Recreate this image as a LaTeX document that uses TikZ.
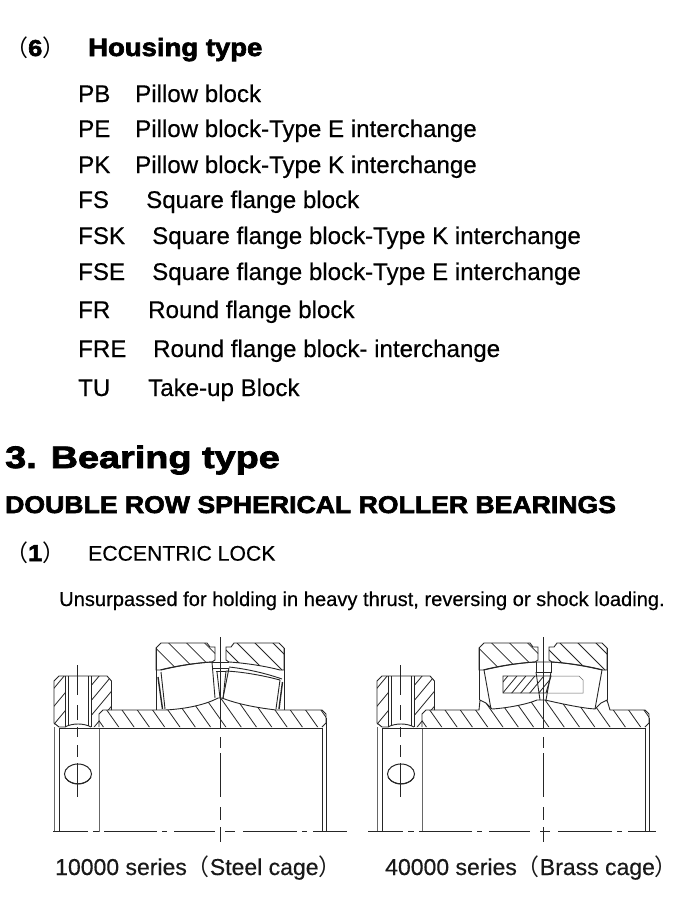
\documentclass[tikz,border=0pt]{standalone}
\usepackage{fontspec}
\usepackage{xcolor}
\usetikzlibrary{shapes.geometric, positioning}
\setmainfont[FakeBold=0.4]{Liberation Sans}
\newfontfamily\heavyfont[FakeBold=2.6, FakeStretch=1.1]{Liberation Sans Bold}
\newfontfamily\bigheavyfont[FakeBold=2.6, FakeStretch=1.22]{Liberation Sans Bold}
\newfontfamily\cjkfont{Noto Sans CJK SC}
\definecolor{inkline}{gray}{0.15}

% hatch lines inside a clipped outline
\newcommand{\hatchin}[3]{%
    \begin{scope}
    \clip #1;
    \foreach \hv in {#3} {\draw[hatch] #2;}
    \end{scope}
}

% parts that both bearings share
\newcommand{\sharedparts}{%
    % locking collar
    \hatchin{(54,727) -- (54,681) -- (59,676) -- (65,676) -- (65,727) -- cycle}{(40,\hv) -- ++(80,-96)}{687,705,723,741}
    \hatchin{(91,676) -- (107,676) -- (111.5,681) -- (111.5,710) -- (103,710) -- (99,714) -- (99,727) -- (91,727) -- cycle}{(40,\hv) -- ++(80,-96)}{732,747,762,777,792,807,822}
    \draw[part] (65,727) -- (59,727) -- (54,723) -- (54,681) -- (59,676) -- (107,676) -- (111.5,681) -- (111.5,710);
    \draw[part] (65,676) -- (65,727);
    \draw[part] (68,676) -- (68,726);
    \draw[part] (88,676) -- (88,726);
    \draw[part] (91,676) -- (91,727);
    \draw[part] (65,727) .. controls (72,723) and (84,723) .. (91,727);
    \draw[thin line] (54,727) -- (54,832);
    \draw[part] (59,728) -- (59,832);
    \draw[thin line] (99,728) -- (99,832);
    \draw[part] (59,728) -- (322,728);
    % set screw
    \node[screw] (dimple) at (78,774) {};
    \draw[part] (65,777) .. controls (70,786) and (86,786) .. (91,777);
    \draw[axis] (77.3,665) -- (77.3,797);
    % sleeve ends
    \draw[part] (322,728) -- (322,832);
    \draw[part] (326,718) -- (326,832);
    % outer ring
    \hatchin{(156,670) -- (156,648) -- (161,643) -- (207,643) -- (210,647) -- (215,647) -- (215,660) -- (212,662) .. controls (195,663) and (175,666) .. (160,670) -- cycle}{(\hv,630) -- ++(60,60)}{137.6,155.6,173.6,191.6,209.6}
    \hatchin{(284,670) -- (284,648) -- (279,643) -- (234,643) -- (231,647) -- (226,647) -- (226,660) -- (229,662) .. controls (245,663) and (265,666) .. (280,670) -- cycle}{(\hv,630) -- ++(60,60)}{206,224,242,260,278}
    \draw[part] (156,670) -- (156,648) -- (161,643) -- (207,643) -- (210,647) -- (215,647) -- (215,660) -- (212,662) .. controls (195,663) and (175,666) .. (160,670) -- cycle;
    \draw[part] (284,670) -- (284,648) -- (279,643) -- (234,643) -- (231,647) -- (226,647) -- (226,660) -- (229,662) .. controls (245,663) and (265,666) .. (280,670) -- cycle;
}

\begin{document}
\begin{tikzpicture}[
    x=1pt, y=-1pt,
    part/.style={draw=inkline, line width=0.9pt},
    hatch/.style={draw=inkline, line width=0.8pt},
    thin line/.style={draw=inkline!70, line width=0.7pt},
    axis/.style={draw=inkline, line width=0.8pt, dash pattern=on 30pt off 10pt on 15pt off 7pt on 10pt off 8pt on 12pt off 6pt on 34pt off 10pt},
    centre/.style={draw=inkline, line width=0.9pt, dash pattern=on 92pt off 8pt on 11pt off 5pt on 44pt off 10pt on 13pt off 7pt on 15pt off 10pt},
    base/.style={draw=inkline, line width=0.9pt, dash pattern=on 34.6pt off 5.7pt on 5.3pt off 5.7pt on 52.7pt off 5pt on 5pt off 7.3pt on 41pt off 10pt on 10pt off 8pt on 53.7pt off 5pt on 5pt off 6.3pt on 34pt off 10pt},
    screw/.style={ellipse, draw=inkline, line width=1pt, minimum width=27pt, minimum height=20pt, inner sep=0pt},
    code/.style={anchor=base west, font=\fontsize{24.1}{24}\selectfont, text=black, inner sep=0pt},
    title/.style={anchor=base west, text=black, inner sep=0pt},
    capt/.style={anchor=base west, font=\fontsize{23}{23}\selectfont, text=black!90, inner sep=0pt}
]
\useasboundingbox (0,0) rectangle (700,921);
\fill[white] (0,0) rectangle (700,921);

\node[title, font=\fontsize{23}{23}\selectfont] (numsix) at (5,56) {{\cjkfont （}{\heavyfont 6}{\cjkfont ）}};
\node[title, font=\fontsize{25}{25}\selectfont\heavyfont] (housing) at (88,56) {Housing type};

\node[code] (pb) at (78,102) {PB};
\node[code] (pbname) at (135,102) {Pillow block};
\node[code] (pe) at (78,137) {PE};
\node[code] (pename) at (135,137) {Pillow block-Type E interchange};
\node[code] (pk) at (78,173) {PK};
\node[code] (pkname) at (135,173) {Pillow block-Type K interchange};
\node[code] (fs) at (78,208) {FS};
\node[code] (fsname) at (146,208) {Square flange block};
\node[code] (fsk) at (78,244) {FSK};
\node[code] (fskname) at (152,244) {Square flange block-Type K interchange};
\node[code] (fse) at (78,280) {FSE};
\node[code] (fsename) at (152,280) {Square flange block-Type E interchange};
\node[code] (fr) at (78,318) {FR};
\node[code] (frname) at (148,318) {Round flange block};
\node[code] (fre) at (78,357) {FRE};
\node[code] (frename) at (153,357) {Round flange block- interchange};
\node[code] (tu) at (78,396) {TU};
\node[code] (tuname) at (148,396) {Take-up Block};

\node[title, font=\fontsize{31}{31}\selectfont\bigheavyfont] (bearingtype) at (5,468) {3. Bearing type};
\node[title, font=\fontsize{24.2}{24}\selectfont\heavyfont] (doublerow) at (5,513) {DOUBLE ROW SPHERICAL ROLLER BEARINGS};
\node[title, font=\fontsize{23}{23}\selectfont] (numone) at (5,561) {{\cjkfont （}{\heavyfont 1}{\cjkfont ）}};
\node[title, font=\fontsize{21.2}{21}\selectfont] (eccentric) at (88,560.7) {ECCENTRIC LOCK};
\node[title, font=\fontsize{20.1}{20}\selectfont] (unsurpassed) at (59,606) {Unsurpassed for holding in heavy thrust, reversing or shock loading.};

% 10000 series
\sharedparts
\hatchin{(99,727) -- (99,714) -- (103,710) -- (165,710) .. controls (185,709) and (205,705) .. (218,698) -- (222,698) .. controls (240,705) and (260,708) .. (276,710) -- (322,710) -- (326,714) -- (326,723) -- (322,727) -- cycle}{(\hv,690) -- ++(48,68)}{62,77.3,...,330}
\draw[part] (99,727) -- (99,714) -- (103,710) -- (165,710) .. controls (185,709) and (205,705) .. (218,698) -- (222,698) .. controls (240,705) and (260,708) .. (276,710) -- (322,710) -- (326,714) -- (326,723) -- (322,727);
\draw[part] (156,648) -- (156,710);
\draw[part] (284,648) -- (284,710);
% rollers
\draw[part] (161,670) .. controls (178,666) and (195,663) .. (212,662) -- (215,698);
\draw[part] (165,709) -- (161,672);
\draw[part] (280,680) -- (276,709);
\draw[part] (226,671) .. controls (245,672) and (265,676) .. (280,680);
\draw[part] (229,667) .. controls (248,669) and (268,674) .. (282,679);
\draw[part] (226,671) -- (223,699);
\draw[part, line width=1.4pt] (158,677) -- (162.5,709);
\draw[part, line width=1.4pt] (282.5,682) -- (279,709);
% middle guide
\draw[part] (212,662) -- (229,662);
\draw[part] (212,668) -- (229,668);
\draw[part] (229,668) -- (223,698);
\draw[part] (216,671) -- (226,671);
\draw[part] (217,672) -- (220,698);
\draw[centre] (220,637) -- (220,842);
\draw[base] (53,831.7) -- (347,831.7);

\node[capt] (steel) at (55,875) {10000 series{\cjkfont （}Steel cage{\cjkfont ）}};

% 40000 series
\begin{scope}[xshift=323pt]
\sharedparts
\hatchin{(99,727) -- (99,714) -- (103,710) -- (156,710) -- (157,700) -- (163,703) -- (169,709) .. controls (185,708) and (205,704) .. (214,700) -- (222,700) .. controls (240,704) and (258,708) .. (272,709) -- (278,703) -- (284,700) -- (287,710) -- (322,710) -- (326,714) -- (326,723) -- (322,727) -- cycle}{(\hv,690) -- ++(48,68)}{62,77.3,...,330}
\draw[part] (99,727) -- (99,714) -- (103,710) -- (156,710) -- (157,700) -- (163,703) -- (169,709) .. controls (185,708) and (205,704) .. (214,700) -- (222,700) .. controls (240,704) and (258,708) .. (272,709) -- (278,703) -- (284,700) -- (287,710) -- (322,710) -- (326,714) -- (326,723) -- (322,727);
\draw[part] (156,648) -- (156,700);
\draw[part] (284,648) -- (284,700);
% rollers
\draw[part] (161,670) -- (168,709);
\draw[part] (279,670) -- (272,709);
\draw[part] (161,670) .. controls (178,666) and (195,663) .. (213,662) -- (228,662) .. controls (245,663) and (262,666) .. (279,670);
\draw[part] (213,662) -- (213,672) -- (228,672) -- (228,662);
\draw[part] (213,672) -- (217,700);
\draw[part] (228,672) -- (223,700);
% cage
\draw[thin line, line width=0.5pt] (228,676) -- (256,676) -- (260,680) -- (260,693) -- (223,693);
\hatchin{(180,676) -- (228,676) -- (223,693) -- (180,693) -- cycle}{(\hv,700) -- ++(24,-29)}{165,174,183,192,201,210,219,228}
\draw[part] (180,676) -- (228,676) -- (223,693) -- (180,693) -- cycle;
\draw[centre] (220,637) -- (220,842);
\end{scope}
\draw[base] (368,831.7) -- (656,831.7);

\node[capt] (brass) at (385,875) {40000 series{\cjkfont （}Brass cage{\cjkfont ）}};
\end{tikzpicture}
\end{document}
